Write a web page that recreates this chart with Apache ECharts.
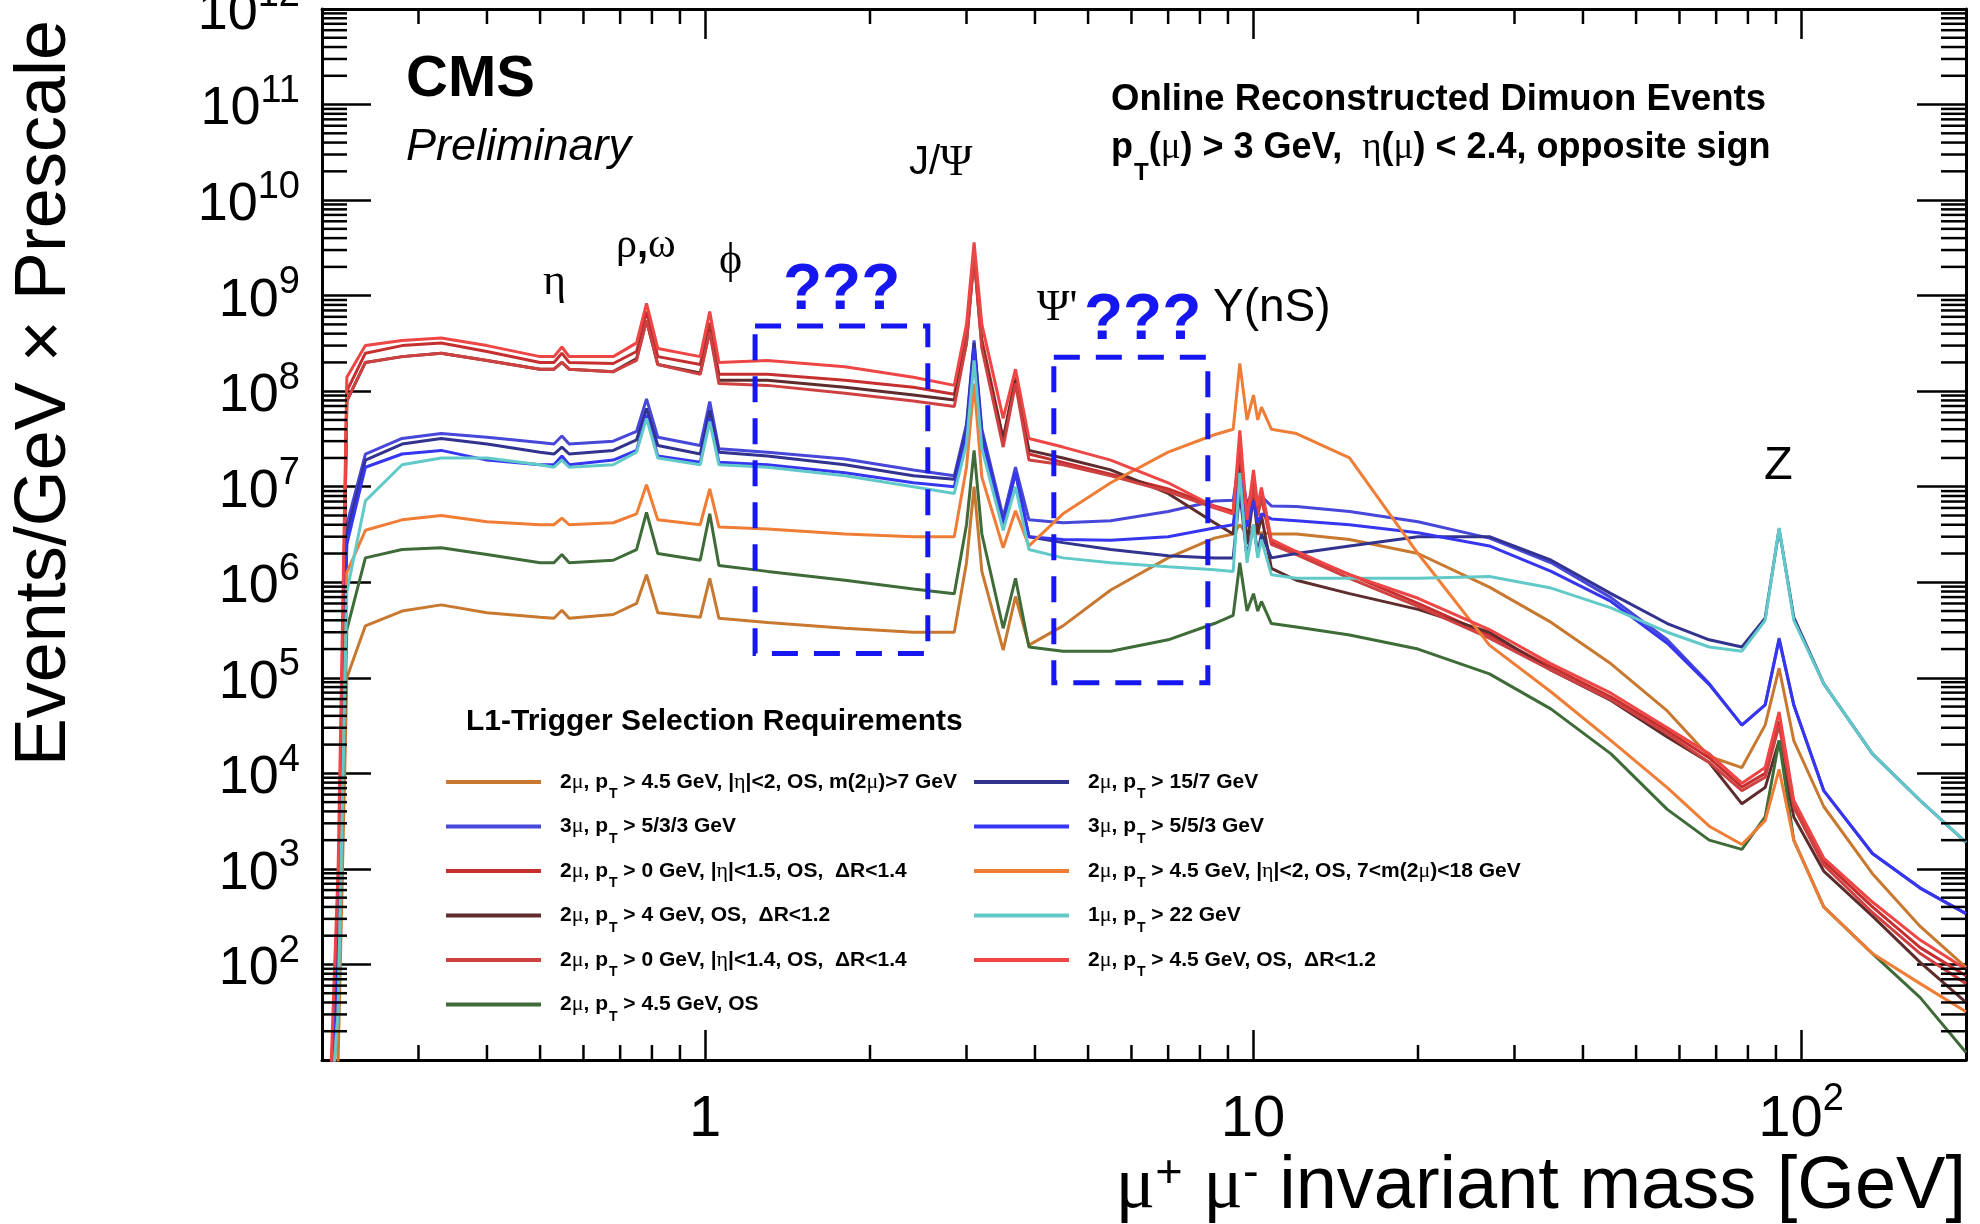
<!DOCTYPE html>
<html>
<head>
<meta charset="utf-8">
<title>Online reconstructed dimuon events</title>
<script src="https://cdn.jsdelivr.net/npm/echarts@6.0.0/dist/echarts.min.js"></script>
<style>
html, body { margin: 0; padding: 0; background: #ffffff; }
#chart { width: 1980px; height: 1224px; }
</style>
</head>
<body>
<div id="chart"></div>
<script>
// Dimuon invariant mass points (GeV) shared by every trigger selection
const massGeV = [0.205, 0.214, 0.222, 0.24, 0.28, 0.33, 0.4, 0.5, 0.53, 0.548,
  0.565, 0.68, 0.75, 0.782, 0.82, 0.98, 1.02, 1.06, 1.3, 1.8,
  2.4, 2.85, 3.0, 3.097, 3.2, 3.5, 3.686, 3.9, 4.5, 5.5,
  7, 8.5, 9.2, 9.46, 9.75, 10.02, 10.2, 10.36, 10.8, 12,
  15, 20, 27, 35, 45, 57, 68, 78, 86, 91.2,
  97, 110, 135, 165, 200];

// Events/GeV x Prescale for each L1 selection
const dimuonPt45Eta2Mass7 = [1, 10, 1.0e5, 3.5e5, 5.0e5, 5.8e5, 4.8e5, 4.3e5, 4.2e5, 5.1e5,
  4.2e5, 4.6e5, 6.0e5, 1.2e6, 4.8e5, 4.3e5, 1.1e6, 4.2e5, 3.8e5, 3.3e5,
  3.0e5, 3.0e5, 1.6e6, 1.0e7, 1.3e6, 1.95e5, 7.1e5, 2.2e5, 3.5e5, 8.3e5,
  1.8e6, 2.9e6, 3.2e6, 4.0e6, 3.2e6, 3.5e6, 3.2e6, 3.3e6, 3.2e6, 3.2e6,
  2.8e6, 2.0e6, 8.9e5, 3.8e5, 1.4e5, 4.5e4, 1.5e4, 1.15e4, 3.2e4, 1.26e5,
  2.2e4, 4.5e3, 890, 250, 93];
const trimuon533 = [1, 100, 4.0e6, 2.2e7, 3.2e7, 3.6e7, 3.3e7, 2.9e7, 2.8e7, 3.4e7,
  2.8e7, 3.0e7, 3.8e7, 8.3e7, 3.3e7, 2.7e7, 7.8e7, 2.5e7, 2.3e7, 1.95e7,
  1.5e7, 1.3e7, 4.5e7, 3.4e8, 4.0e7, 4.8e6, 1.6e7, 4.5e6, 4.2e6, 4.4e6,
  5.5e6, 7.1e6, 7.2e6, 2.0e7, 6.3e6, 1.0e7, 6.6e6, 7.9e6, 6.3e6, 6.2e6,
  5.5e6, 4.3e6, 2.9e6, 1.6e6, 6.9e5, 2.5e5, 8.7e4, 3.2e4, 5.2e4, 2.6e5,
  5.2e4, 6.6e3, 1.45e3, 630, 340];
const dimuonPt0Eta15DR14 = [1, 320, 1.0e8, 2.5e8, 3.0e8, 3.2e8, 2.6e8, 2.0e8, 2.0e8, 2.5e8,
  2.0e8, 1.95e8, 2.6e8, 6.8e8, 2.3e8, 1.9e8, 5.2e8, 1.5e8, 1.5e8, 1.3e8,
  1.1e8, 9.3e7, 4.0e8, 2.8e9, 3.5e8, 3.2e7, 1.4e8, 2.2e7, 1.8e7, 1.35e7,
  9.5e6, 6.3e6, 5.5e6, 2.8e7, 4.0e6, 1.1e7, 5.2e6, 7.9e6, 2.6e6, 2.0e6,
  1.2e6, 6.0e5, 2.8e5, 1.3e5, 6.3e4, 2.8e4, 1.45e4, 7.2e3, 1.0e4, 3.5e4,
  4.8e3, 1.2e3, 400, 150, 76];
const dimuonPt4DR12 = [1, 200, 7.9e7, 2.0e8, 2.3e8, 2.5e8, 2.1e8, 1.7e8, 1.7e8, 2.0e8,
  1.7e8, 1.6e8, 2.2e8, 5.5e8, 1.9e8, 1.55e8, 4.3e8, 1.3e8, 1.3e8, 1.1e8,
  9.1e7, 8.1e7, 3.2e8, 2.6e9, 3.0e8, 3.1e7, 1.3e8, 2.4e7, 2.0e7, 1.5e7,
  8.5e6, 4.2e6, 3.2e6, 2.0e7, 2.5e6, 7.9e6, 3.2e6, 5.0e6, 1.4e6, 1.05e6,
  7.6e5, 5.2e5, 3.0e5, 1.2e5, 5.8e4, 2.4e4, 1.3e4, 4.8e3, 7.1e3, 2.2e4,
  3.5e3, 950, 320, 105, 40];
const dimuonPt0Eta14DR14 = [1, 200, 7.9e7, 2.0e8, 2.3e8, 2.5e8, 2.1e8, 1.7e8, 1.7e8, 2.0e8,
  1.7e8, 1.6e8, 2.1e8, 5.5e8, 1.9e8, 1.5e8, 4.2e8, 1.2e8, 1.15e8, 9.5e7,
  7.9e7, 6.9e7, 3.2e8, 2.5e9, 2.8e8, 2.6e7, 1.2e8, 1.9e7, 1.7e7, 1.3e7,
  8.9e6, 6.0e6, 5.2e6, 2.5e7, 3.8e6, 1.0e7, 5.0e6, 7.6e6, 2.5e6, 1.95e6,
  1.1e6, 5.6e5, 2.6e5, 1.2e5, 5.9e4, 2.6e4, 1.3e4, 6.6e3, 9.1e3, 3.2e4,
  4.4e3, 1.1e3, 350, 130, 63];
const dimuonPt45OS = [1, 100, 3.2e5, 1.8e6, 2.2e6, 2.3e6, 1.95e6, 1.6e6, 1.6e6, 1.95e6,
  1.6e6, 1.7e6, 2.2e6, 5.4e6, 2.0e6, 1.7e6, 5.2e6, 1.5e6, 1.3e6, 1.05e6,
  8.5e5, 7.6e5, 4.0e6, 2.4e7, 3.2e6, 3.3e5, 1.1e6, 2.1e5, 1.9e5, 1.9e5,
  2.5e5, 3.7e5, 4.5e5, 1.6e6, 5.0e5, 7.6e5, 5.0e5, 6.3e5, 3.7e5, 3.4e5,
  2.8e5, 2.0e5, 1.1e5, 4.7e4, 1.6e4, 4.2e3, 2.0e3, 1.6e3, 3.5e3, 2.2e4,
  2.0e3, 400, 130, 45, 12];
const dimuon157 = [1, 100, 3.2e6, 1.9e7, 2.8e7, 3.2e7, 2.8e7, 2.3e7, 2.2e7, 2.6e7,
  2.2e7, 2.4e7, 3.1e7, 6.6e7, 2.7e7, 2.2e7, 6.3e7, 2.3e7, 2.1e7, 1.7e7,
  1.3e7, 1.2e7, 4.0e7, 3.2e8, 3.5e7, 4.2e6, 1.4e7, 3.0e6, 2.6e6, 2.2e6,
  1.9e6, 1.8e6, 1.8e6, 8.9e6, 1.8e6, 4.0e6, 2.0e6, 3.2e6, 1.8e6, 2.0e6,
  2.4e6, 3.0e6, 3.0e6, 1.7e6, 7.6e5, 3.7e5, 2.5e5, 2.1e5, 4.2e5, 3.6e6,
  4.3e5, 8.7e4, 1.6e4, 5.2e3, 1.9e3];
const trimuon553 = [1, 100, 2.5e6, 1.6e7, 2.2e7, 2.4e7, 1.9e7, 1.7e7, 1.7e7, 2.1e7,
  1.7e7, 1.9e7, 2.4e7, 5.6e7, 2.1e7, 1.8e7, 5.2e7, 1.8e7, 1.7e7, 1.4e7,
  1.1e7, 1.0e7, 3.5e7, 2.8e8, 3.2e7, 4.0e6, 1.4e7, 3.0e6, 2.8e6, 2.75e6,
  3.0e6, 3.7e6, 4.0e6, 1.4e7, 3.8e6, 7.1e6, 4.2e6, 5.2e6, 4.6e6, 4.4e6,
  4.0e6, 3.3e6, 2.4e6, 1.3e6, 6.3e5, 2.3e5, 8.5e4, 3.2e4, 5.2e4, 2.5e5,
  5.2e4, 6.6e3, 1.45e3, 630, 340];
const dimuonPt45Eta2Mass718 = [1, 32, 1.26e6, 3.5e6, 4.5e6, 5.0e6, 4.3e6, 4.0e6, 4.0e6, 4.7e6,
  4.0e6, 4.2e6, 5.2e6, 1.05e7, 4.5e6, 4.0e6, 9.5e6, 3.8e6, 3.6e6, 3.2e6,
  3.0e6, 3.0e6, 1.6e7, 1.2e8, 1.26e7, 2.3e6, 5.6e6, 2.4e6, 5.2e6, 1.1e7,
  2.3e7, 3.5e7, 4.0e7, 1.95e8, 5.0e7, 9.1e7, 5.0e7, 6.8e7, 4.0e7, 3.6e7,
  2.0e7, 2.0e6, 2.2e5, 7.1e4, 2.2e4, 7.1e3, 2.8e3, 1.8e3, 3.2e3, 1.1e4,
  2.0e3, 400, 130, 63, 32];
const singleMuon22 = [1, 32, 7.9e5, 7.1e6, 1.7e7, 2.0e7, 2.0e7, 1.7e7, 1.6e7, 1.9e7,
  1.6e7, 1.7e7, 2.3e7, 5.2e7, 2.0e7, 1.7e7, 4.8e7, 1.7e7, 1.6e7, 1.3e7,
  1.0e7, 8.5e6, 2.8e7, 2.1e8, 2.5e7, 3.5e6, 1.0e7, 2.2e6, 1.8e6, 1.6e6,
  1.45e6, 1.35e6, 1.3e6, 1.4e7, 1.6e6, 4.0e6, 1.8e6, 2.8e6, 1.2e6, 1.1e6,
  1.1e6, 1.1e6, 1.15e6, 8.7e5, 5.4e5, 3.0e5, 2.1e5, 1.9e5, 4.0e5, 3.7e6,
  4.0e5, 8.7e4, 1.6e4, 5.2e3, 1.9e3];
const dimuonPt45DR12 = [1, 1000, 1.4e8, 3.0e8, 3.4e8, 3.6e8, 3.0e8, 2.3e8, 2.3e8, 2.9e8,
  2.3e8, 2.3e8, 3.2e8, 8.3e8, 2.8e8, 2.3e8, 6.8e8, 2.0e8, 2.1e8, 1.8e8,
  1.4e8, 1.15e8, 5.0e8, 3.6e9, 5.0e8, 5.2e7, 1.7e8, 3.2e7, 2.6e7, 1.9e7,
  1.1e7, 6.2e6, 5.2e6, 3.9e7, 4.5e6, 1.5e7, 6.3e6, 9.8e6, 2.8e6, 2.1e6,
  1.2e6, 6.8e5, 3.2e5, 1.4e5, 6.9e4, 3.0e4, 1.6e4, 7.9e3, 1.15e4, 4.4e4,
  5.2e3, 1.3e3, 450, 180, 89];

// Axis ranges and tick positions
const massRange = [0.2, 200];
const eventsRange = [10, 1e12];
const xMinorTicks = [0.3, 0.4, 0.5, 0.6, 0.7, 0.8, 0.9, 2, 3, 4, 5, 6, 7, 8, 9,
  20, 30, 40, 50, 60, 70, 80, 90];
const minorFactors = [2, 3, 4, 5, 6, 7, 8, 9];

// Dashed regions of interest: [mass low, events low, mass high, events high]
const noteBoxes = [[1.234, 1.8e5, 2.55, 4.8e8], [4.33, 8.9e4, 8.27, 2.27e8]];

const SANS = '"Liberation Sans", Arial, Helvetica, sans-serif';
const SERIF = '"Liberation Serif", "DejaVu Serif", "Times New Roman", serif';
const INK = '#000000';
const NOTE_BLUE = '#1616f0';

const selections = [
  { name: '2μ, p_T > 4.5 GeV, |η|<2, OS, m(2μ)>7 GeV', color: '#c8782f', values: dimuonPt45Eta2Mass7 },
  { name: '3μ, p_T > 5/3/3 GeV', color: '#4747d9', values: trimuon533 },
  { name: '2μ, p_T > 0 GeV, |η|<1.5, OS,  ΔR<1.4', color: '#c62f2f', values: dimuonPt0Eta15DR14 },
  { name: '2μ, p_T > 4 GeV, OS,  ΔR<1.2', color: '#5e2c2c', values: dimuonPt4DR12 },
  { name: '2μ, p_T > 0 GeV, |η|<1.4, OS,  ΔR<1.4', color: '#cf4141', values: dimuonPt0Eta14DR14 },
  { name: '2μ, p_T > 4.5 GeV, OS', color: '#3e6b37', values: dimuonPt45OS },
  { name: '2μ, p_T > 15/7 GeV', color: '#32328f', values: dimuon157 },
  { name: '3μ, p_T > 5/5/3 GeV', color: '#3636f0', values: trimuon553 },
  { name: '2μ, p_T > 4.5 GeV, |η|<2, OS, 7<m(2μ)<18 GeV', color: '#f07d36', values: dimuonPt45Eta2Mass718 },
  { name: '1μ, p_T > 22 GeV', color: '#62c9c9', values: singleMuon22 },
  { name: '2μ, p_T > 4.5 GeV, OS,  ΔR<1.2', color: '#ee4545', values: dimuonPt45DR12 }
];

const lg = Math.log10;
const yMinLog = lg(eventsRange[0]);
const yMaxLog = lg(eventsRange[1]);

const yMinorTicks = [];
for (let d = yMinLog; d < yMaxLog; d++) {
  minorFactors.forEach(f => yMinorTicks.push(f * Math.pow(10, d)));
}

// Legend label: Greek letters in a serif face, p_T with a subscript
function legendText(name) {
  let out = '{gap| }';
  let buf = '';
  const flush = () => { if (buf) { out += '{t|' + buf + '}'; buf = ''; } };
  for (let i = 0; i < name.length; i++) {
    const c = name[i];
    if (c === 'μ' || c === 'η') { flush(); out += '{gk|' + c + '}'; }
    else if (c === '_') { flush(); out += '{sub|' + name[i + 1] + '}'; i++; }
    else buf += c;
  }
  flush();
  return out;
}

const legendRich = {
  gap: { width: 14 },
  t: { fontSize: 21, fontWeight: 'bold', fontFamily: SANS, color: INK },
  gk: { fontSize: 22, fontFamily: SERIF, color: INK },
  sub: { fontSize: 14, fontWeight: 'bold', fontFamily: SANS, color: INK, padding: [25, 0, 0, 1] }
};

function decadeLabel(v) {
  const e = Math.round(lg(v));
  if (Math.abs(lg(v) - e) > 1e-6) return '';
  if (e === 0) return '{b|1}';
  if (e === 1) return '{b|10}';
  return '{b|10}{e|' + e + '}';
}

const lineSeries = selections.map(s => ({
  type: 'line',
  name: s.name,
  data: massGeV.map((m, i) => [m, lg(s.values[i])]),
  symbol: 'none',
  showSymbol: false,
  clip: true,
  silent: true,
  z: 2,
  lineStyle: { color: s.color, width: 3 },
  itemStyle: { color: s.color },
  emphasis: { disabled: true }
}));

const tickStyle = { stroke: INK, lineWidth: 2.5 };

const minorXSeries = {
  type: 'custom',
  silent: true,
  z: 4,
  data: xMinorTicks.map(v => [v, 6]),
  encode: { x: 0, y: 1 },
  renderItem: (params, api) => {
    const x = api.value(0);
    const b = api.coord([x, yMinLog]);
    const t = api.coord([x, yMaxLog]);
    return {
      type: 'group',
      children: [
        { type: 'line', shape: { x1: b[0], y1: b[1], x2: b[0], y2: b[1] - 15 }, style: tickStyle },
        { type: 'line', shape: { x1: t[0], y1: t[1], x2: t[0], y2: t[1] + 15 }, style: tickStyle }
      ]
    };
  }
};

const minorYSeries = {
  type: 'custom',
  silent: true,
  z: 4,
  data: yMinorTicks.map(v => [1, lg(v)]),
  encode: { x: 0, y: 1 },
  renderItem: (params, api) => {
    const y = api.value(1);
    const l = api.coord([massRange[0], y]);
    const r = api.coord([massRange[1], y]);
    return {
      type: 'group',
      children: [
        { type: 'line', shape: { x1: l[0], y1: l[1], x2: l[0] + 25, y2: l[1] }, style: tickStyle },
        { type: 'line', shape: { x1: r[0], y1: r[1], x2: r[0] - 25, y2: r[1] }, style: tickStyle }
      ]
    };
  }
};

const boxSeries = {
  type: 'custom',
  silent: true,
  z: 5,
  data: noteBoxes.map(b => [b[0], lg(b[1]), b[2], lg(b[3])]),
  encode: { x: 0, y: 1 },
  renderItem: (params, api) => {
    const a = api.coord([api.value(0), api.value(3)]);
    const c = api.coord([api.value(2), api.value(1)]);
    return {
      type: 'rect',
      shape: { x: a[0], y: a[1], width: c[0] - a[0], height: c[1] - a[1] },
      style: { fill: 'none', stroke: NOTE_BLUE, lineWidth: 5, lineDash: [26, 16] }
    };
  }
};

function txt(x, y, text, style, align) {
  const a = align || 'left';
  return {
    type: 'text', x: x, y: y, silent: true, z: 10,
    style: Object.assign({
      text: text, fill: INK, fontFamily: SANS,
      align: a, verticalAlign: 'middle',
      textAlign: a, textVerticalAlign: 'middle'
    }, style)
  };
}

const richSans = (size, extra) => Object.assign({ fontSize: size, fontFamily: SANS, fill: INK, color: INK }, extra || {});
const richSerif = (size, extra) => Object.assign({ fontSize: size, fontFamily: SERIF, fill: INK, color: INK }, extra || {});

const annotations = [
  txt(406, 80, 'CMS', { fontSize: 58, fontWeight: 'bold' }),
  txt(406, 147, 'Preliminary', { fontSize: 45, fontStyle: 'italic' }),
  txt(1111, 100, 'Online Reconstructed Dimuon Events', { fontSize: 36.5, fontWeight: 'bold' }),
  txt(1111, 148, '{b|p}{s|T}{b|(}{g|μ}{b|) > 3 GeV,  }{g|η}{b|(}{g|μ}{b|) < 2.4, opposite sign}', {
    rich: {
      b: richSans(36, { fontWeight: 'bold' }),
      g: richSerif(37),
      s: richSans(24, { fontWeight: 'bold', padding: [50, 0, 0, 1] })
    }
  }),
  txt(909, 163, '{a|J/}{g|Ψ}', { rich: { a: richSans(40), g: richSerif(44) } }),
  txt(543, 282, 'η', { fontSize: 44, fontFamily: SERIF }),
  txt(616, 246, '{g|ρ}{a|,}{g|ω}', { rich: { a: richSans(40, { fontWeight: 'bold' }), g: richSerif(42) } }),
  txt(719, 261, 'ϕ', { fontSize: 44, fontFamily: SERIF }),
  txt(1037, 308, "Ψ'", { fontSize: 44, fontFamily: SERIF }),
  txt(1213, 308, 'Υ(nS)', { fontSize: 46 }),
  txt(1764, 466, 'Z', { fontSize: 47 }),
  txt(783, 291, '???', { fontSize: 64, fontWeight: 'bold', fill: NOTE_BLUE }),
  txt(1084, 321, '???', { fontSize: 64, fontWeight: 'bold', fill: NOTE_BLUE }),
  txt(466, 722, 'L1-Trigger Selection Requirements', { fontSize: 30, fontWeight: 'bold' }),
  // x-axis title, right-aligned under the frame
  txt(1966, 1188, '{m|μ}{p|+}{t| }{m|μ}{p|-}{t| invariant mass [GeV]}', {
    rich: {
      t: richSans(74),
      m: richSerif(74),
      p: richSans(47, { padding: [0, 0, 27, 0] })
    }
  }, 'right'),
  // y-axis title, rotated and aligned to the top of the frame
  {
    type: 'text', x: 45, y: 20, rotation: Math.PI / 2, silent: true, z: 10,
    style: {
      text: 'Events/GeV × Prescale', fill: INK, fontSize: 72, fontFamily: SANS,
      align: 'right', verticalAlign: 'middle', textAlign: 'right', textVerticalAlign: 'middle'
    }
  }
];

const frameLine = { show: true, onZero: false, lineStyle: { color: INK, width: 3 } };

const legendBase = {
  orient: 'vertical', top: 771, padding: 0,
  icon: 'rect', itemWidth: 95, itemHeight: 4, itemGap: 14, selectedMode: false,
  formatter: legendText,
  textStyle: { color: INK, rich: legendRich }
};

const option = {
  animation: false,
  backgroundColor: '#ffffff',
  grid: { left: 322, right: 14, top: 9, bottom: 164, containLabel: false, outerBoundsMode: 'none' },
  xAxis: [
    {
      type: 'log', logBase: 10, min: massRange[0], max: massRange[1], position: 'bottom',
      axisLine: frameLine,
      axisTick: { show: true, inside: true, length: 30, lineStyle: { color: INK, width: 2.5 } },
      splitLine: { show: false },
      axisLabel: {
        formatter: decadeLabel, margin: 21, color: INK,
        rich: {
          b: { fontSize: 58, fontFamily: SANS, color: INK, padding: [10, 0, 0, 0] },
          e: { fontSize: 38, fontFamily: SANS, color: INK, padding: [0, 0, 30, 0] }
        }
      }
    },
    {
      type: 'log', logBase: 10, min: massRange[0], max: massRange[1], position: 'top',
      axisLine: frameLine,
      axisTick: { show: true, inside: true, length: 30, lineStyle: { color: INK, width: 2.5 } },
      axisLabel: { show: false },
      splitLine: { show: false }
    }
  ],
  yAxis: [
    {
      type: 'value', min: yMinLog, max: yMaxLog, interval: 1, position: 'left',
      axisLine: frameLine,
      axisTick: { show: true, inside: true, length: 49, lineStyle: { color: INK, width: 2.5 } },
      splitLine: { show: false },
      axisLabel: {
        margin: 22, color: INK,
        formatter: v => (Math.round(v) <= yMinLog ? '' : '{b|10}{e|' + Math.round(v) + '}'),
        rich: {
          b: { fontSize: 54, fontFamily: SANS, color: INK, padding: [10, 0, 0, 0] },
          e: { fontSize: 38, fontFamily: SANS, color: INK, padding: [0, 0, 26, 0] }
        }
      }
    },
    {
      type: 'value', min: yMinLog, max: yMaxLog, interval: 1, position: 'right',
      axisLine: frameLine,
      axisTick: { show: true, inside: true, length: 49, lineStyle: { color: INK, width: 2.5 } },
      axisLabel: { show: false },
      splitLine: { show: false }
    }
  ],
  legend: [
    Object.assign({}, legendBase, { left: 446, data: selections.slice(0, 6).map(s => s.name) }),
    Object.assign({}, legendBase, { left: 974, data: selections.slice(6).map(s => s.name) })
  ],
  graphic: annotations,
  series: lineSeries.concat([minorXSeries, minorYSeries, boxSeries])
};

const chart = echarts.init(document.getElementById('chart'), null, { renderer: 'canvas', width: 1980, height: 1224 });
chart.setOption(option);
</script>
</body>
</html>
